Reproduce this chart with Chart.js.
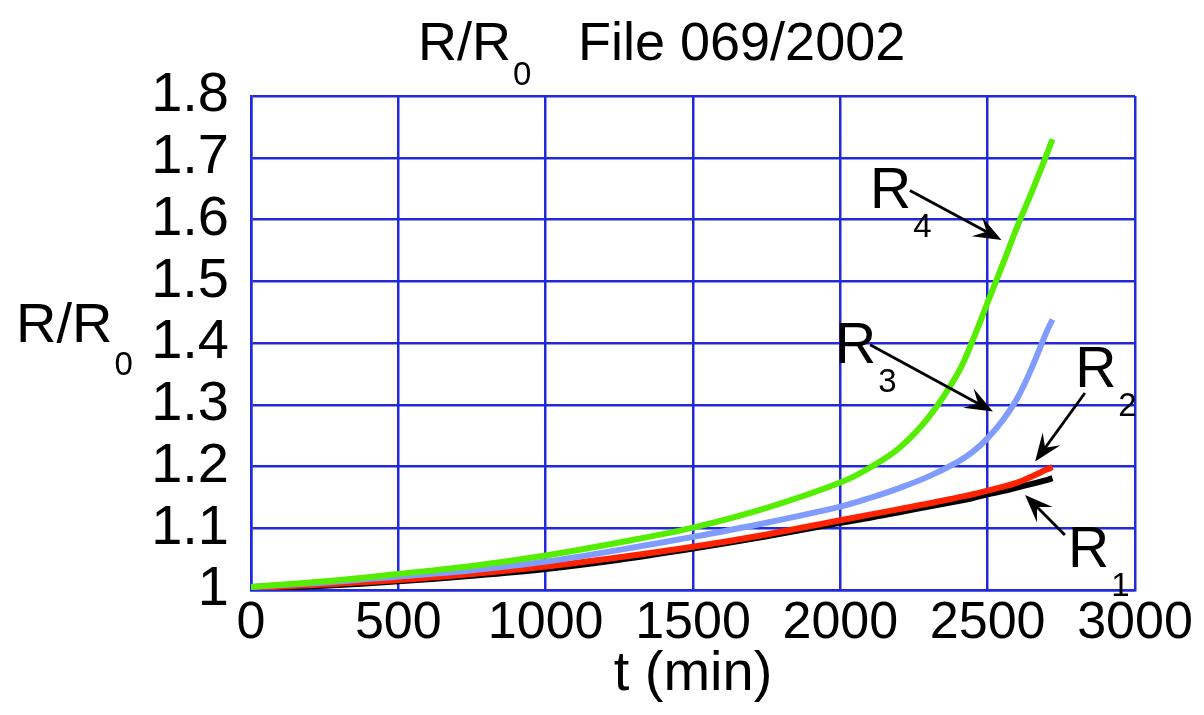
<!DOCTYPE html>
<html>
<head>
<meta charset="utf-8">
<script src="https://cdn.jsdelivr.net/npm/chart.js"></script>
<style>
  html, body { margin: 0; padding: 0; background: #ffffff; }
  #wrap { width: 1204px; height: 715px; }
</style>
</head>
<body>
<div id="wrap"><canvas id="c" width="1204" height="715"></canvas></div>
<script>
// ---- data ----
const tMin = [0, 250, 500, 750, 1000, 1250, 1500, 1750, 2000, 2100, 2200, 2300, 2400, 2450, 2500, 2550, 2600, 2650, 2700, 2720];
const R1 = [1.002, 1.007, 1.014, 1.023, 1.034, 1.049, 1.067, 1.087, 1.109, 1.117, 1.126, 1.135, 1.144, 1.149, 1.155, 1.160, 1.166, 1.172, 1.178, 1.181];
const R2 = [1.003, 1.009, 1.016, 1.026, 1.038, 1.053, 1.070, 1.090, 1.113, 1.122, 1.131, 1.140, 1.150, 1.155, 1.161, 1.167, 1.174, 1.184, 1.195, 1.199];
const R3 = [1.005, 1.012, 1.022, 1.032, 1.046, 1.065, 1.086, 1.109, 1.135, 1.149, 1.165, 1.184, 1.208, 1.224, 1.246, 1.274, 1.310, 1.360, 1.418, 1.438];
const R4 = [1.005, 1.014, 1.026, 1.039, 1.056, 1.077, 1.101, 1.133, 1.174, 1.198, 1.230, 1.280, 1.352, 1.405, 1.466, 1.526, 1.588, 1.645, 1.705, 1.730];

const xTicks = [0, 500, 1000, 1500, 2000, 2500, 3000];
const yTicks = [1, 1.1, 1.2, 1.3, 1.4, 1.5, 1.6, 1.7, 1.8];

// annotation labels (data units): label anchor, arrow start, arrow tip
const labelSub   = ['1', '2', '3', '4'];
const labelT     = [2773, 2797, 1982, 2101];
const labelV     = [1.037, 1.329, 1.368, 1.619];
const arrowFromT = [2762, 2830, 2101, 2236];
const arrowFromV = [1.089, 1.319, 1.397, 1.647];
const arrowToT   = [2627, 2661, 2518, 2547];
const arrowToV   = [1.154, 1.208, 1.289, 1.567];

const FONT = '"Liberation Sans", Arial, Helvetica, sans-serif';
const GRID = '#2229dd';

function pts(ys) { return tMin.map((t, i) => ({ x: t, y: ys[i] })); }

const annotPlugin = {
  id: 'annot',
  afterDatasetsDraw(chart) {
    const { ctx, scales: { x, y } } = chart;
    ctx.save();
    ctx.fillStyle = '#000';
    ctx.strokeStyle = '#000';
    for (let i = 0; i < labelSub.length; i++) {
      const x0 = x.getPixelForValue(arrowFromT[i]), y0 = y.getPixelForValue(arrowFromV[i]);
      const x1 = x.getPixelForValue(arrowToT[i]), y1 = y.getPixelForValue(arrowToV[i]);
      const ang = Math.atan2(y1 - y0, x1 - x0);
      const L = 28, W = 11, notch = 17;
      const bx = x1 - Math.cos(ang) * notch, by = y1 - Math.sin(ang) * notch;
      ctx.lineWidth = 2.8;
      ctx.beginPath();
      ctx.moveTo(x0, y0);
      ctx.lineTo(bx, by);
      ctx.stroke();
      const hx = x1 - Math.cos(ang) * L, hy = y1 - Math.sin(ang) * L;
      const px = -Math.sin(ang), py = Math.cos(ang);
      ctx.beginPath();
      ctx.moveTo(x1, y1);
      ctx.lineTo(hx + px * W, hy + py * W);
      ctx.lineTo(bx, by);
      ctx.lineTo(hx - px * W, hy - py * W);
      ctx.closePath();
      ctx.fill();
      const lx = x.getPixelForValue(labelT[i]), ly = y.getPixelForValue(labelV[i]);
      ctx.textAlign = 'left';
      ctx.textBaseline = 'alphabetic';
      ctx.font = '57px ' + FONT;
      ctx.fillText('R', lx, ly);
      const w = ctx.measureText('R').width;
      ctx.font = '33px ' + FONT;
      ctx.fillText(labelSub[i], lx + w + 2, ly + 29);
    }
    ctx.restore();
  },
  afterDraw(chart) {
    const { ctx, chartArea: ca } = chart;
    ctx.save();
    ctx.fillStyle = '#000';
    ctx.textBaseline = 'alphabetic';
    ctx.textAlign = 'left';
    ctx.font = '54px ' + FONT;
    let tx = 418;
    ctx.fillText('R/R', tx, 60);
    tx += ctx.measureText('R/R').width + 2;
    ctx.font = '33px ' + FONT;
    ctx.fillText('0', tx, 85);
    ctx.font = '54px ' + FONT;
    ctx.fillText('File 069/2002', 578, 60);
    ctx.font = '56px ' + FONT;
    ctx.fillText('R/R', 16, 342);
    const w = ctx.measureText('R/R').width;
    ctx.font = '33px ' + FONT;
    ctx.fillText('0', 16 + w + 2, 375);
    ctx.font = '56px ' + FONT;
    ctx.textAlign = 'center';
    ctx.fillText('t (min)', (ca.left + ca.right) / 2, 690);
    ctx.restore();
  }
};

new Chart(document.getElementById('c'), {
  type: 'line',
  data: {
    datasets: [
      { label: 'R4', data: pts(R4), borderColor: '#55ee00', backgroundColor: '#55ee00' },
      { label: 'R3', data: pts(R3), borderColor: '#809cff', backgroundColor: '#809cff' },
      { label: 'R2', data: pts(R2), borderColor: '#ff2200', backgroundColor: '#ff2200' },
      { label: 'R1', data: pts(R1), borderColor: '#000000', backgroundColor: '#000000' }
    ]
  },
  options: {
    responsive: false,
    animation: false,
    layout: { padding: { top: 96, right: 69, left: 0, bottom: 0 } },
    elements: {
      line: { borderWidth: 6, tension: 0.35, fill: false },
      point: { radius: 0 }
    },
    plugins: { legend: { display: false }, tooltip: { enabled: false }, title: { display: false } },
    scales: {
      x: {
        type: 'linear', min: 0, max: 3000,
        afterFit: s => { s.height = 125; },
        afterBuildTicks: s => { s.ticks = xTicks.map(v => ({ value: v })); },
        grid: { color: GRID, lineWidth: 2.5, drawTicks: false },
        border: { color: GRID, width: 2.5 },
        ticks: { color: '#000', font: { family: FONT, size: 52 }, padding: 2, maxRotation: 0, autoSkip: false,
                 callback: v => String(v) }
      },
      y: {
        type: 'linear', min: 1, max: 1.8,
        afterFit: s => { s.width = 251; },
        afterBuildTicks: s => { s.ticks = yTicks.map(v => ({ value: v })); },
        grid: { color: GRID, lineWidth: 2.5, drawTicks: false },
        border: { color: GRID, width: 2.5 },
        ticks: { color: '#000', font: { family: FONT, size: 56 }, padding: 22, autoSkip: false,
                 callback: v => (v === 1 ? '1' : Number(v).toFixed(1)) }
      }
    }
  },
  plugins: [annotPlugin]
});
</script>
</body>
</html>
